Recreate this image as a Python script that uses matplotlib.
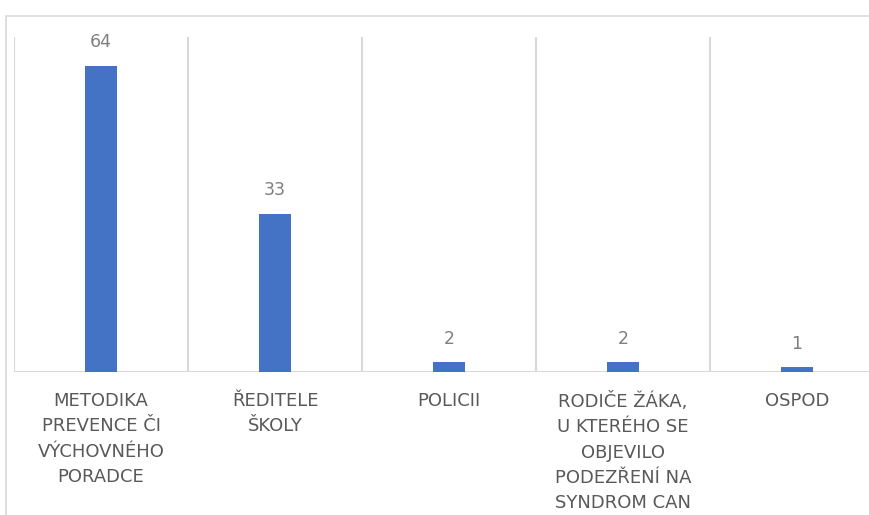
import matplotlib.pyplot as plt
from matplotlib.patches import Rectangle

# categories and counts
categories = [
    "METODIKA\nPREVENCE ČI\nVÝCHOVNÉHO\nPORADCE",
    "ŘEDITELE\nŠKOLY",
    "POLICII",
    "RODIČE ŽÁKA,\nU KTERÉHO SE\nOBJEVILO\nPODEZŘENÍ NA\nSYNDROM CAN",
    "OSPOD",
]
values = [64, 33, 2, 2, 1]

W, H = 870, 515
fig = plt.figure(figsize=(W / 100, H / 100), dpi=100)

# chart area border (cut off on the right and bottom)
fig.patches.append(Rectangle((6.5 / W, -0.1), 1.2, (H - 15.5) / H + 0.1,
                             transform=fig.transFigure, fill=False,
                             edgecolor="#d9d9d9", linewidth=1.2))

ax = fig.add_axes([14 / W, (H - 372) / H, 870 / W, (372 - 37) / H])
x = range(len(categories))
bars = ax.bar(x, values, width=0.184, color="#4472C4", zorder=3)

for b, v in zip(bars, values):
    ax.annotate(str(v), (b.get_x() + b.get_width() / 2, b.get_height()),
                xytext=(0, 10.5), textcoords="offset points",
                ha="center", va="bottom", fontsize=12.5, color="#7f7f7f")

ax.set_xlim(-0.5, len(categories) - 0.5)
ax.set_ylim(0, 70)
for i in range(len(categories) + 1):
    ax.axvline(i - 0.5, color="#d9d9d9", linewidth=1.5, zorder=1)

for s in ax.spines.values():
    s.set_visible(False)
ax.axhline(0, color="#d9d9d9", linewidth=1.5, zorder=2)

ax.set_yticks([])
ax.set_xticks(list(x))
ax.set_xticklabels(categories, fontsize=13, color="#595959", linespacing=1.52)
ax.tick_params(axis="x", length=0, pad=14.5)

fig.savefig("out.png", dpi=100)
